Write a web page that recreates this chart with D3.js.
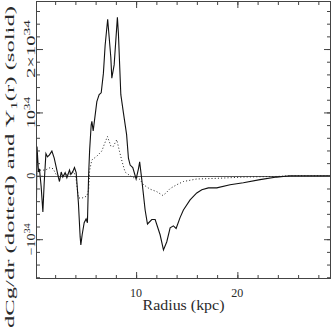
<!DOCTYPE html>
<html lang="en">
<head>
<meta charset="utf-8">
<title>dCg/dr and T1(r)</title>
<script src="https://d3js.org/d3.v7.min.js"></script>
<style>
  body { margin: 0; background: #fff; }
  svg text { font-family: "Liberation Serif", "DejaVu Serif", serif; fill: #2a2a2a; }
</style>
</head>
<body>
<script>
// radius in kpc, values in units of 10^34
var rSolid = [0.16,0.21,0.36,0.45,0.62,0.79,0.92,1.09,1.24,1.44,1.68,1.91,2.10,2.33,2.43,2.60,2.76,2.99,3.16,3.42,
              3.55,3.75,3.91,4.08,4.30,4.47,4.54,4.67,4.87,5.06,5.19,5.31,5.41,5.56,5.63,5.76,6.12,6.35,6.55,6.77,
              6.94,7.19,7.50,7.60,7.83,8.15,8.25,8.49,8.75,9.06,9.24,9.41,9.67,10.0,10.23,10.35,10.56,10.89,11.12,11.55,
              11.88,12.37,12.70,13.03,13.36,13.68,13.95,14.34,14.67,15.33,15.99,16.49,17.14,17.97,19.28,20.59,22.24,23.89,25.2,29.2];
var tSolid = [-0.35,0.46,0.06,0.11,-0.17,-0.57,-0.11,0.35,0.30,0.33,0.39,0.28,0.14,-0.03,-0.09,0.06,-0.02,0.05,-0.03,0.09,
              0.02,0.07,0.13,0.05,-0.43,-0.96,-1.09,-0.93,-0.74,-0.68,-0.74,0.02,0.41,0.80,0.86,0.71,1.17,1.28,1.31,1.62,
              2.06,2.47,1.87,1.54,1.75,2.50,2.25,1.28,0.99,0.65,0.28,0.17,0.13,-0.05,0.11,0.22,-0.06,-0.54,-0.76,-0.69,
              -0.69,-0.93,-1.17,-1.04,-0.82,-0.79,-0.83,-0.66,-0.54,-0.38,-0.27,-0.22,-0.19,-0.19,-0.14,-0.11,-0.06,-0.02,0.0,0.0];

var rDot = [0.16,0.36,0.72,1.02,1.51,1.81,2.10,2.50,2.99,3.48,3.88,4.08,4.30,4.67,5.13,5.31,5.41,5.63,6.12,6.61,
            6.84,7.17,7.50,7.73,8.09,8.35,8.62,8.91,9.41,9.73,10.07,10.39,10.72,11.38,12.04,12.64,12.96,13.36,14.02,14.67,
            15.99,17.97,20.59,23.89,25.2,29.2];
var dDot = [0.02,0.09,0.09,0.09,0.13,0.11,0.02,-0.02,0.02,0.03,0.06,-0.06,-0.35,-0.35,-0.32,-0.22,0.09,0.25,0.31,0.39,
            0.49,0.62,0.47,0.46,0.57,0.39,0.22,0.06,0.0,-0.03,-0.02,-0.06,-0.14,-0.21,-0.25,-0.31,-0.27,-0.20,-0.14,-0.09,
            -0.05,-0.04,-0.02,-0.01,0.0,0.0];

var xMajor = [10, 20];
var xMinor = d3.range(2, 29, 2);
var yMajor = [-1, 0, 1, 2];
var yMinor = d3.range(-16, 27, 2).map(function(d) { return d / 10; });
var yTickText = [["\u221210", "34"], ["0", ""], ["10", "34"], ["2\u00d710", "34"]];
var yTickLen = [32, 0, 31, 58];   // label lengths along the axis

var w = 332, h = 332;
var pl = 36.5, pr = 330.5, pt = 1.5, pb = 278.5;

var x = d3.scaleLinear().domain([0.16, 29.2]).range([pl, pr]);
var y = d3.scaleLinear().domain([-1.62, 2.75]).range([pb, pt]);

var svg = d3.select("body").append("svg")
    .attr("width", w)
    .attr("height", h);

// zero line
svg.append("line")
   .attr("x1", pl).attr("x2", pr)
   .attr("y1", Math.round(y(0)) + 0.5).attr("y2", Math.round(y(0)) + 0.5)
   .attr("stroke", "#555").attr("stroke-width", 1);

// curves
svg.append("clipPath").attr("id", "clip")
   .append("rect").attr("x", pl).attr("y", pt).attr("width", pr - pl).attr("height", pb - pt);

var line = d3.line()
   .x(function(d) { return x(d[0]); })
   .y(function(d) { return y(d[1]); });

svg.append("path")
   .datum(d3.zip(rDot, dDot))
   .attr("clip-path", "url(#clip)")
   .attr("d", line)
   .attr("fill", "none")
   .attr("stroke", "#222")
   .attr("stroke-width", 1)
   .attr("stroke-dasharray", "1,2.2");

svg.append("path")
   .datum(d3.zip(rSolid, tSolid))
   .attr("clip-path", "url(#clip)")
   .attr("d", line)
   .attr("fill", "none")
   .attr("stroke", "#111")
   .attr("stroke-width", 1.1);

// ticks, all pointing inward
function ticks(axis, vals, size, tr) {
  var g = svg.append("g")
     .attr("transform", tr)
     .call(axis.tickValues(vals).tickSize(-size).tickFormat(""));
  g.select(".domain").remove();
  g.selectAll("line").attr("stroke", "#444");
  return g;
}
ticks(d3.axisBottom(x), xMinor, 3.5, "translate(0," + pb + ")");
ticks(d3.axisBottom(x), xMajor, 6.5, "translate(0," + pb + ")");
ticks(d3.axisTop(x), xMinor, 3.5, "translate(0," + pt + ")");
ticks(d3.axisTop(x), xMajor, 6.5, "translate(0," + pt + ")");
ticks(d3.axisLeft(y), yMinor, 3.5, "translate(" + pl + ",0)");
ticks(d3.axisLeft(y), yMajor, 6.5, "translate(" + pl + ",0)");
ticks(d3.axisRight(y), yMinor, 3.5, "translate(" + pr + ",0)");
ticks(d3.axisRight(y), yMajor, 6.5, "translate(" + pr + ",0)");

// frame
svg.append("rect")
   .attr("x", pl).attr("y", pt)
   .attr("width", pr - pl).attr("height", pb - pt)
   .attr("fill", "none").attr("stroke", "#444").attr("stroke-width", 1);

// x tick labels
svg.selectAll(".xlab")
   .data(xMajor)
   .enter().append("text")
   .attr("class", "xlab")
   .attr("x", function(d) { return x(d); })
   .attr("y", 297)
   .attr("text-anchor", "middle")
   .attr("font-size", "12px")
   .attr("textLength", 12)
   .attr("lengthAdjust", "spacingAndGlyphs")
   .text(function(d) { return d; });

// y tick labels (rotated)
yMajor.forEach(function(v, i) {
  var t = svg.append("text")
     .attr("transform", "translate(34.5," + y(v) + ") rotate(-90)")
     .attr("text-anchor", "middle")
     .attr("font-size", "12px");
  if (yTickLen[i]) t.attr("textLength", yTickLen[i]).attr("lengthAdjust", "spacingAndGlyphs");
  t.append("tspan").text(yTickText[i][0]);
  if (yTickText[i][1]) {
    t.append("tspan").attr("dy", -5).attr("font-size", "9px").text(yTickText[i][1]);
  }
});

// axis titles
svg.append("text")
   .attr("x", (pl + pr) / 2)
   .attr("y", 310)
   .attr("text-anchor", "middle")
   .attr("font-size", "14px")
   .attr("textLength", 82)
   .attr("lengthAdjust", "spacingAndGlyphs")
   .text("Radius (kpc)");

var yt = svg.append("text")
   .attr("transform", "translate(14,167) rotate(-90)")
   .attr("text-anchor", "middle")
   .attr("font-size", "13px")
   .attr("textLength", 322)
   .attr("lengthAdjust", "spacingAndGlyphs");
yt.append("tspan").text("dCg/dr (dotted) and \u03a5");
yt.append("tspan").attr("dy", 3).attr("font-size", "9px").text("1");
yt.append("tspan").attr("dy", -3).text("(r) (solid)");
</script>
</body>
</html>
